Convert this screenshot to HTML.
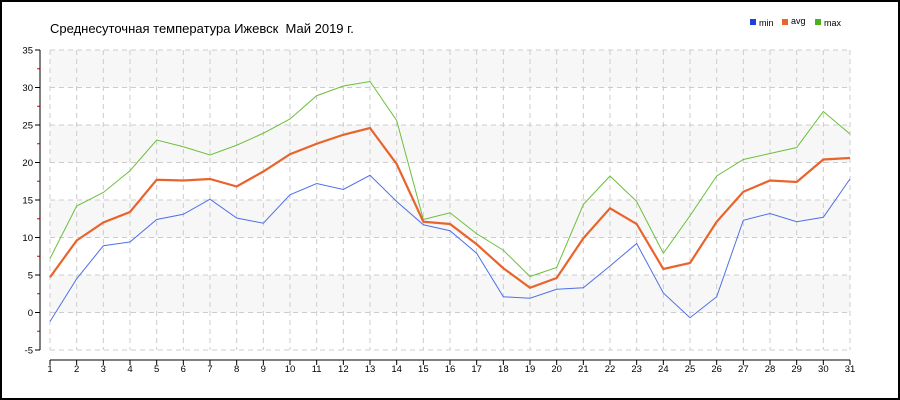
<!DOCTYPE html><html><head><meta charset="utf-8"><style>body{margin:0}svg{display:block;font-family:"Liberation Sans",sans-serif}</style></head><body>
<svg width="900" height="400" xmlns="http://www.w3.org/2000/svg">
<rect x="1" y="1" width="898" height="398" fill="#fff" stroke="#000" stroke-width="2"/>
<text x="50" y="33" font-size="13" style="white-space:pre">Среднесуточная температура Ижевск  Май 2019 г.</text>
<rect x="750" y="19" width="6" height="6" fill="#1f3fe0"/><text x="759" y="26" font-size="9">min</text>
<rect x="782" y="19" width="6" height="6" fill="#e8642c"/><text x="791" y="24" font-size="9">avg</text>
<rect x="815" y="19" width="6" height="6" fill="#4caf20"/><text x="824" y="26" font-size="9">max</text>
<g fill="#f7f7f7"><rect x="50" y="50" width="800" height="37.5"/><rect x="50" y="125" width="800" height="37.5"/><rect x="50" y="200" width="800" height="37.5"/><rect x="50" y="275" width="800" height="37.5"/></g>
<g id="grid" stroke="#ccc" stroke-dasharray="5,4" fill="none"></g>
<g id="ax" font-size="9.5" fill="#000"></g>
<polyline id="mx" fill="none" stroke="#6cbf3c" stroke-width="1"/>
<polyline id="mn" fill="none" stroke="#4f6fe8" stroke-width="1"/>
<polyline id="av" fill="none" stroke="#e8642c" stroke-width="2.2"/>
<script>
var Y=v=>50+(35-v)*7.5,X=d=>50+(d-1)*800/30,ns="http://www.w3.org/2000/svg";
function el(p,t,a,tx){var e=document.createElementNS(ns,t);for(var k in a)e.setAttribute(k,a[k]);if(tx!=null)e.textContent=tx;p.appendChild(e);}
var g=document.getElementById('grid'),a=document.getElementById('ax');
for(var v=-5;v<=35;v+=5){el(g,'line',{x1:50,x2:850,y1:Y(v),y2:Y(v)});el(a,'line',{x1:35,x2:40,y1:Y(v),y2:Y(v),stroke:'#000'});el(a,'text',{x:33,y:Y(v)+3.5,'text-anchor':'end'},v);if(v<35)el(a,'line',{x1:37,x2:40,y1:Y(v+2.5),y2:Y(v+2.5),stroke:'#e00'});}
for(var d=1;d<=31;d++){el(g,'line',{x1:X(d),x2:X(d),y1:50,y2:350});el(a,'line',{x1:X(d),x2:X(d),y1:360,y2:365,stroke:'#000'});el(a,'text',{x:X(d),y:372,'text-anchor':'middle'},d);}
el(a,'line',{x1:40,x2:40,y1:50,y2:350,stroke:'#000'});el(a,'line',{x1:50,x2:850,y1:360,y2:360,stroke:'#000'});
var mn=[-1.2,4.5,8.9,9.4,12.4,13.1,15.1,12.6,11.9,15.7,17.2,16.4,18.3,14.8,11.7,10.9,7.9,2.1,1.9,3.1,3.3,6.2,9.2,2.6,-0.7,2.1,12.3,13.2,12.1,12.7,17.8],
av=[4.7,9.6,12,13.4,17.7,17.6,17.8,16.8,18.8,21.1,22.5,23.7,24.6,19.8,12.1,11.8,9.1,5.9,3.3,4.6,9.9,13.9,11.8,5.8,6.6,12.1,16.1,17.6,17.4,20.4,20.6],
mx=[7.2,14.2,16,18.9,23,22.1,21,22.3,23.9,25.8,28.9,30.2,30.8,25.6,12.4,13.3,10.5,8.3,4.8,6,14.4,18.2,14.8,7.9,12.9,18.2,20.4,21.2,22,26.8,23.8];
function P(id,d){document.getElementById(id).setAttribute('points',d.map((v,i)=>X(i+1)+','+Y(v)).join(' '));}
P('mn',mn);P('av',av);P('mx',mx);
</script>
</svg></body></html>
